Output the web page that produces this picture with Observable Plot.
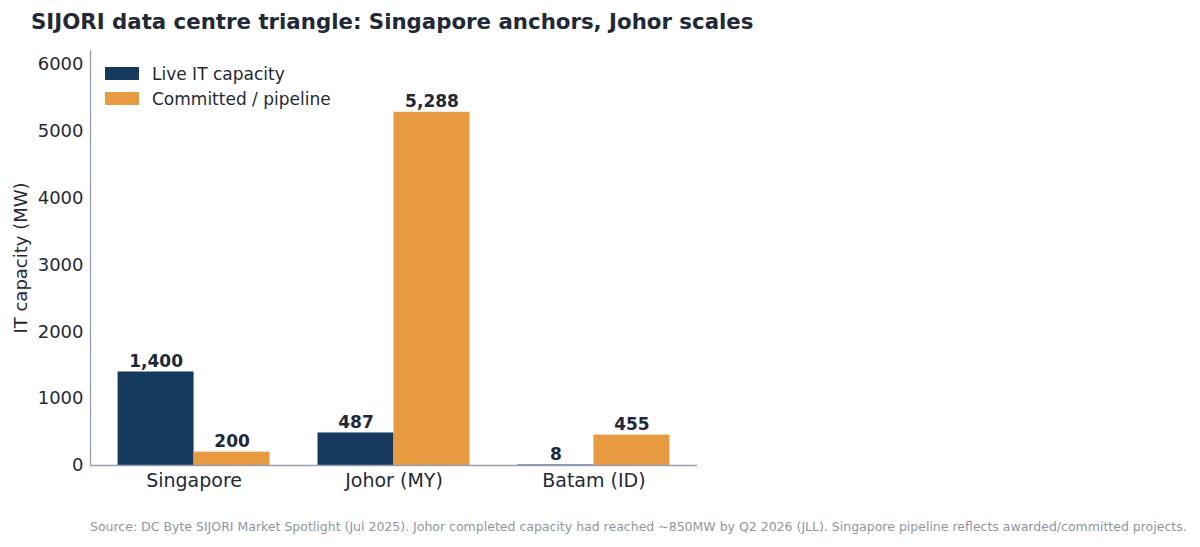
<!DOCTYPE html>
<html>
<head>
<meta charset="utf-8">
<script src="https://cdn.jsdelivr.net/npm/d3@7"></script>
<script src="https://cdn.jsdelivr.net/npm/@observablehq/plot@0.6"></script>
<style>
  html, body { margin: 0; padding: 0; background: #fff; }
  body { width: 1200px; height: 547px; position: relative; overflow: hidden; font-family: "DejaVu Sans", sans-serif; color: #1f2937; }
  #chart { position: absolute; left: 0; top: 0; z-index: 0; }
  #title { position: absolute; left: 31px; top: 9px; font-size: 21.3px; font-weight: bold; color: #1f2937; white-space: nowrap; z-index: 1; }
  #legend { position: absolute; left: 105px; top: 61px; font-size: 17px; color: #1f2937; z-index: 1; }
  #legend .item { display: flex; align-items: center; height: 25px; }
  #legend .sw { width: 34px; height: 13px; margin-right: 13px; }
  #caption { position: absolute; left: 90px; top: 519px; font-size: 12.5px; color: #8f96a3; white-space: nowrap; z-index: 1; }
</style>
</head>
<body>
<div id="chart"></div>
<div id="title"></div>
<div id="legend"></div>
<div id="caption"></div>
<script>
const titleText = "SIJORI data centre triangle: Singapore anchors, Johor scales";
const captionText = "Source: DC Byte SIJORI Market Spotlight (Jul 2025). Johor completed capacity had reached ~850MW by Q2 2026 (JLL). Singapore pipeline reflects awarded/committed projects.";

const markets = ["Singapore", "Johor (MY)", "Batam (ID)"];
const liveMW = [1400, 487, 8];
const pipelineMW = [200, 5288, 455];
const seriesNames = ["Live IT capacity", "Committed / pipeline"];
const seriesColors = ["#163a5e", "#e89a41"];
const yTicks = [0, 1000, 2000, 3000, 4000, 5000, 6000];

const barWidth = 0.38;

// one row per bar: market index, series, value
const rows = [];
markets.forEach((m, i) => {
  rows.push({i, market: m, series: seriesNames[0], value: liveMW[i], x1: i - barWidth, x2: i});
  rows.push({i, market: m, series: seriesNames[1], value: pipelineMW[i], x1: i, x2: i + barWidth});
});

const fmt = d3.format(",");
const spine = "#97a0b2";

const chart = Plot.plot({
  width: 1200,
  height: 547,
  marginLeft: 90,
  marginRight: 503,
  marginTop: 50,
  marginBottom: 82,
  style: {fontFamily: "DejaVu Sans, sans-serif", color: "#1f2937", background: "transparent"},
  x: {domain: [-0.518, 2.518]},
  y: {domain: [0, 6213]},
  color: {domain: seriesNames, range: seriesColors},
  marks: [
    Plot.rectY(rows, {x1: "x1", x2: "x2", y1: 0, y2: "value", fill: "series", inset: 0}),
    Plot.text(rows, {
      x: d => (d.x1 + d.x2) / 2, y: "value", text: d => fmt(d.value),
      lineAnchor: "bottom", dy: -5, fontSize: 17, fontWeight: "bold", fill: "#1f2937"
    }),
    Plot.axisY({
      ticks: yTicks, tickSize: 0, tickPadding: 7, fontSize: 18, tickFormat: d => String(d),
      label: "IT capacity (MW)", labelAnchor: "center", labelArrow: "none", labelOffset: 76
    }),
    Plot.axisX({
      ticks: markets.map((_, i) => i), tickFormat: i => markets[i],
      tickSize: 0, tickPadding: 8, fontSize: 19, label: null
    }),
    Plot.ruleY([0], {stroke: spine, strokeWidth: 1.3}),
    Plot.ruleX([-0.518], {stroke: spine, strokeWidth: 1.3})
  ]
});
document.getElementById("chart").appendChild(chart);

document.getElementById("title").textContent = titleText;
document.getElementById("caption").textContent = captionText;

const legend = document.getElementById("legend");
seriesNames.forEach((name, k) => {
  const item = document.createElement("div");
  item.className = "item";
  const sw = document.createElement("div");
  sw.className = "sw";
  sw.style.background = seriesColors[k];
  const label = document.createElement("span");
  label.textContent = name;
  item.appendChild(sw);
  item.appendChild(label);
  legend.appendChild(item);
});
</script>
</body>
</html>
